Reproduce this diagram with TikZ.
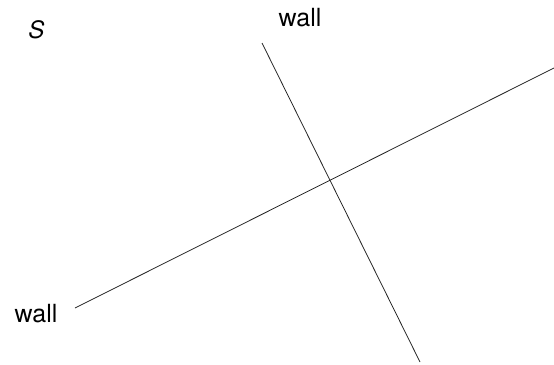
\documentclass[tikz,border=0pt]{standalone}
\usepackage{fontspec}
\setsansfont{TeX Gyre Heros}
\usetikzlibrary{positioning}

\begin{document}
\begin{tikzpicture}[
  x=1pt, y=-1pt,
  lbl/.style={font=\fontsize{25}{29}\selectfont\sffamily, inner sep=0pt},
  space/.style={font=\fontsize{24}{28}\selectfont\sffamily\itshape, inner sep=0pt},
  wall/.style={draw=black!85, line width=0.8pt},
]
\useasboundingbox (0,0) rectangle (554,364);

\node[space] (s) at (36.5,30) {S};
\node[lbl] (top) at (300,18) {wall};
\node[lbl] (left) at (36,314) {wall};

\coordinate (a1) at (75,308);
\coordinate (a2) at (554,68);
\coordinate (b1) at (262,43);
\coordinate (b2) at (420,362);

\draw[wall] (a1) -- (a2);
\draw[wall] (b1) -- (b2);

\end{tikzpicture}
\end{document}
